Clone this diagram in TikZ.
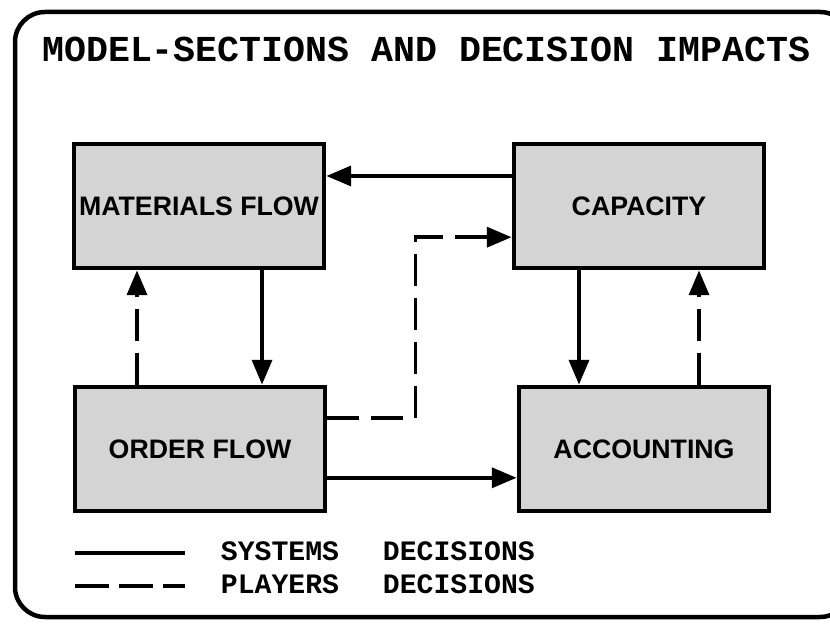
\documentclass[tikz,border=0pt]{standalone}
\usepackage{fontspec}
\setmainfont{Liberation Sans}
\newfontfamily\typefont{Liberation Mono}
\usetikzlibrary{positioning, arrows.meta, calc}

\begin{document}
\begin{tikzpicture}[x=0.025cm, y=-0.025cm,
    section/.style={rectangle, draw, line width=3.4pt, fill=black!17,
      minimum width=6.25cm, minimum height=3.1cm,
      font=\bfseries\fontsize{19}{22}\selectfont},
    sysline/.style={line width=2.6pt, -{Triangle[length=0.62cm, width=0.5cm]}},
    playline/.style={sysline, dash pattern=on 0.8cm off 0.3cm},
    legendtext/.style={anchor=base west, font=\typefont\bfseries\fontsize{20}{24}\selectfont}]
  \useasboundingbox (0,0) rectangle (830,629);

  % Frame and title
  \draw[line width=3.2pt, rounded corners=0.75cm] (15,12) rectangle (850,617);
  \node[anchor=base west, inner sep=0pt, font=\typefont\bfseries\fontsize{26}{30}\selectfont]
    (title) at (42,62) {MODEL-SECTIONS AND DECISION IMPACTS};

  % Nodes
  \foreach \name/\x/\y/\txt in {mat/199/206/MATERIALS FLOW, cap/639/206/CAPACITY,
                                ord/200/449/ORDER FLOW, acc/644/449/ACCOUNTING}
  \node[section] (\name) at (\x,\y) {\txt};

  % Arrows
  \draw[sysline] ([yshift=0.75cm]cap.west) -- ([yshift=0.75cm]mat.east);
  \draw[sysline] ([xshift=1.575cm]mat.south) -- ([xshift=1.575cm]mat.south |- ord.north);
  \draw[playline] ([xshift=-1.575cm]ord.north) -- ([xshift=-1.575cm]ord.north |- mat.south);
  \draw[sysline] ([yshift=-0.72cm]ord.east) -- ([yshift=-0.72cm]acc.west);
  \draw[playline] ([yshift=0.78cm]ord.east) -- ++(2.2cm,0) |- ([yshift=-0.78cm]cap.west);
  \draw[sysline] ([xshift=-1.5cm]cap.south) -- ([xshift=-1.5cm]cap.south |- acc.north);
  \draw[playline] ([xshift=1.375cm]acc.north) -- ([xshift=1.375cm]acc.north |- cap.south);

  % Legend
  \coordinate (sysA) at (75,553);
  \coordinate (sysB) at (185,553);
  \coordinate (plaA) at (75,586);
  \coordinate (plaB) at (185,586);
  \draw[line width=3pt] (sysA) -- (sysB);
  \draw[line width=3pt, dash pattern=on 0.85cm off 0.25cm] (plaA) -- (plaB);
  \node[legendtext] (sysword) at (216,560) {SYSTEMS};
  \node[legendtext] (sysdec) at (378,560) {DECISIONS};
  \node[legendtext] (plaword) at (216,593) {PLAYERS};
  \node[legendtext] (pladec) at (378,593) {DECISIONS};
\end{tikzpicture}
\end{document}
